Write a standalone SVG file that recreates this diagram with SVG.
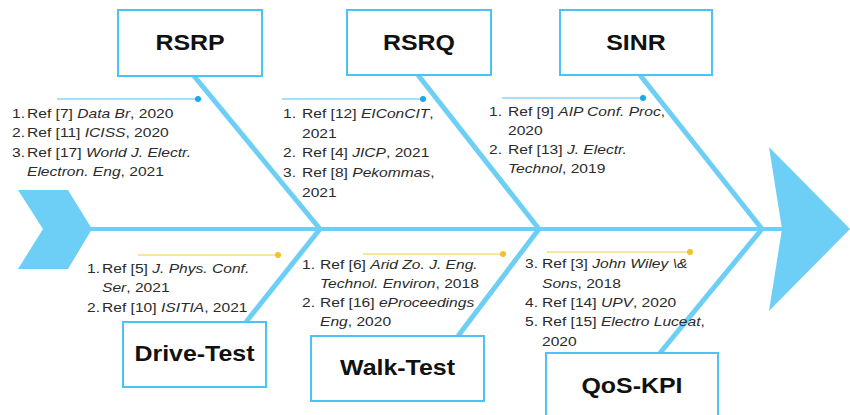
<svg xmlns="http://www.w3.org/2000/svg" width="850" height="415" viewBox="0 0 850 415">
<style>
.box{fill:#fff;stroke:#4cc3f5;stroke-width:2}
.lbl{font-family:"Liberation Sans",Arial,sans-serif;font-weight:bold;font-size:21.5px;fill:#111;text-anchor:middle}
.t{font-family:"Liberation Sans",Arial,sans-serif;font-size:13px;fill:#2b2b2b}
.i{font-style:italic}
.bone{stroke:#6dcff6;stroke-width:5;fill:none}
.spine{stroke:#6dcff6;stroke-width:4;fill:none}
.bl{stroke:#4cc3f5;stroke-width:1.2}
.yl{stroke:#f2cd3b;stroke-width:1.2}
</style>
<g id="connectors">
<polygon points="18,190 68,190 92,229 68,269 18,269 43,229" fill="#6dcff6"/>
<polygon points="769,147 850,229 769,311 782,229" fill="#6dcff6"/>
<line class="spine" x1="88" y1="229" x2="784" y2="229"/>
<line class="bone" x1="194" y1="76" x2="320" y2="229"/>
<line class="bone" x1="418" y1="75" x2="539" y2="229"/>
<line class="bone" x1="640" y1="75" x2="762" y2="229"/>
<line class="bone" x1="320" y1="229" x2="246" y2="322"/>
<line class="bone" x1="539" y1="229" x2="458" y2="336"/>
<line class="bone" x1="762" y1="229" x2="660" y2="353"/>
<line class="bl" x1="57" y1="99" x2="198" y2="99"/><circle cx="198" cy="99" r="3" fill="#1aa7ec"/>
<line class="bl" x1="282" y1="99" x2="423" y2="99"/><circle cx="423" cy="99" r="3" fill="#1aa7ec"/>
<line class="bl" x1="502" y1="98" x2="643" y2="98"/><circle cx="643" cy="98" r="3" fill="#1aa7ec"/>
<line class="yl" x1="138" y1="255" x2="278" y2="255"/><circle cx="278" cy="255" r="3" fill="#f2c12e"/>
<line class="yl" x1="363" y1="254" x2="503" y2="254"/><circle cx="503" cy="254" r="3" fill="#f2c12e"/>
<line class="yl" x1="547" y1="252" x2="690" y2="252"/><circle cx="690" cy="252" r="3" fill="#f2c12e"/>
</g>
<g id="rsrp"><rect class="box" x="118" y="10" width="144" height="66"/><text class="lbl" transform="translate(190 50) scale(1.16 1)">RSRP</text></g>
<g id="rsrq"><rect class="box" x="347" y="10" width="144" height="65"/><text class="lbl" transform="translate(419 50) scale(1.16 1)">RSRQ</text></g>
<g id="sinr"><rect class="box" x="560" y="10" width="152" height="65"/><text class="lbl" transform="translate(636 50) scale(1.16 1)">SINR</text></g>
<g id="drive-test"><rect class="box" x="123" y="322" width="143" height="65"/><text class="lbl" transform="translate(194.5 361) scale(1.16 1)">Drive-Test</text></g>
<g id="walk-test"><rect class="box" x="311" y="336" width="173" height="65"/><text class="lbl" transform="translate(397.5 375) scale(1.16 1)">Walk-Test</text></g>
<g id="qos-kpi"><rect class="box" x="546" y="353" width="172" height="75"/><text class="lbl" transform="translate(632 393) scale(1.16 1)">QoS-KPI</text></g>
<g id="rsrp-refs">
<text class="t" transform="translate(12 118) scale(1.2 1)">1.</text><text class="t" transform="translate(27 118) scale(1.2 1)">Ref [7] <tspan class="i">Data Br</tspan>, 2020</text>
<text class="t" transform="translate(12 137) scale(1.2 1)">2.</text><text class="t" transform="translate(27 137) scale(1.2 1)">Ref [11] <tspan class="i">ICISS</tspan>, 2020</text>
<text class="t" transform="translate(12 157) scale(1.2 1)">3.</text><text class="t" transform="translate(27 157) scale(1.2 1)">Ref [17] <tspan class="i">World J. Electr.</tspan></text>
<text class="t" transform="translate(27 176) scale(1.2 1)"><tspan class="i">Electron. Eng</tspan>, 2021</text>
</g>
<g id="rsrq-refs">
<text class="t" transform="translate(283 118) scale(1.2 1)">1.</text><text class="t" transform="translate(302 118) scale(1.2 1)">Ref [12] <tspan class="i">EIConCIT</tspan>,</text>
<text class="t" transform="translate(302 138) scale(1.2 1)">2021</text>
<text class="t" transform="translate(283 157) scale(1.2 1)">2.</text><text class="t" transform="translate(302 157) scale(1.2 1)">Ref [4] <tspan class="i">JICP</tspan>, 2021</text>
<text class="t" transform="translate(283 177) scale(1.2 1)">3.</text><text class="t" transform="translate(302 177) scale(1.2 1)">Ref [8] <tspan class="i">Pekommas</tspan>,</text>
<text class="t" transform="translate(302 197) scale(1.2 1)">2021</text>
</g>
<g id="sinr-refs">
<text class="t" transform="translate(489 116) scale(1.2 1)">1.</text><text class="t" transform="translate(508 116) scale(1.2 1)">Ref [9] <tspan class="i">AIP Conf. Proc</tspan>,</text>
<text class="t" transform="translate(508 135) scale(1.2 1)">2020</text>
<text class="t" transform="translate(489 154) scale(1.2 1)">2.</text><text class="t" transform="translate(508 154) scale(1.2 1)">Ref [13] <tspan class="i">J. Electr.</tspan></text>
<text class="t" transform="translate(508 173) scale(1.2 1)"><tspan class="i">Technol</tspan>, 2019</text>
</g>
<g id="drive-refs">
<text class="t" transform="translate(87 273) scale(1.2 1)">1.</text><text class="t" transform="translate(102 273) scale(1.2 1)">Ref [5] <tspan class="i">J. Phys. Conf.</tspan></text>
<text class="t" transform="translate(102 292) scale(1.2 1)"><tspan class="i">Ser</tspan>, 2021</text>
<text class="t" transform="translate(87 312) scale(1.2 1)">2.</text><text class="t" transform="translate(102 312) scale(1.2 1)">Ref [10] <tspan class="i">ISITIA</tspan>, 2021</text>
</g>
<g id="walk-refs">
<text class="t" transform="translate(302 269) scale(1.2 1)">1.</text><text class="t" transform="translate(320 269) scale(1.2 1)">Ref [6] <tspan class="i">Arid Zo. J. Eng.</tspan></text>
<text class="t" transform="translate(320 288) scale(1.2 1)"><tspan class="i">Technol. Environ</tspan>, 2018</text>
<text class="t" transform="translate(302 307) scale(1.2 1)">2.</text><text class="t" transform="translate(320 307) scale(1.2 1)">Ref [16] <tspan class="i">eProceedings</tspan></text>
<text class="t" transform="translate(320 326) scale(1.2 1)"><tspan class="i">Eng</tspan>, 2020</text>
</g>
<g id="qos-refs">
<text class="t" transform="translate(525 268) scale(1.2 1)">3.</text><text class="t" transform="translate(542 268) scale(1.2 1)">Ref [3] <tspan class="i">John Wiley \&amp;</tspan></text>
<text class="t" transform="translate(542 288) scale(1.2 1)"><tspan class="i">Sons</tspan>, 2018</text>
<text class="t" transform="translate(525 307) scale(1.2 1)">4.</text><text class="t" transform="translate(542 307) scale(1.2 1)">Ref [14] <tspan class="i">UPV</tspan>, 2020</text>
<text class="t" transform="translate(525 326) scale(1.2 1)">5.</text><text class="t" transform="translate(542 326) scale(1.2 1)">Ref [15] <tspan class="i">Electro Luceat</tspan>,</text>
<text class="t" transform="translate(542 346) scale(1.2 1)">2020</text>
</g>
</svg>
